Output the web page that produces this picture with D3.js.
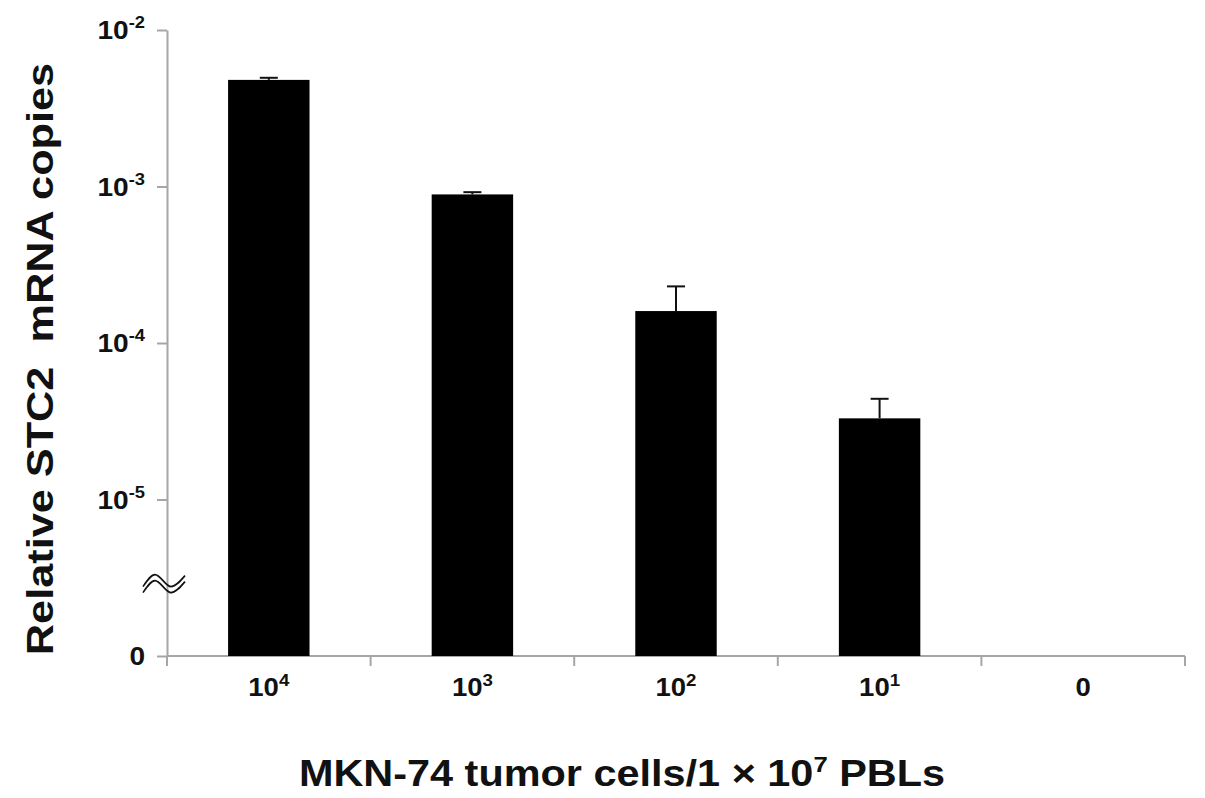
<!DOCTYPE html>
<html>
<head>
<meta charset="utf-8">
<script src="https://cdn.jsdelivr.net/npm/d3@7"></script>
<style>
  body { margin: 0; background: #fff; }
  text { font-family: "Liberation Sans", Arial, sans-serif; font-weight: bold; fill: #111; white-space: pre; }
</style>
</head>
<body>
<div id="canvas"></div>
<script>
let categories = ["10^4", "10^3", "10^2", "10^1", "0"];
let catBase = ["10", "10", "10", "10", "0"];
let catExp = ["4", "3", "2", "1", ""];

let means = [4.8e-3, 8.9e-4, 1.6e-4, 3.3e-5, null];
let upper = [4.95e-3, 9.2e-4, 2.3e-4, 4.4e-5, null];

let yTicks = [1e-6, 1e-5, 1e-4, 1e-3, 1e-2];
let yTickBase = ["0", "10", "10", "10", "10"];
let yTickExp = ["", "-5", "-4", "-3", "-2"];
let breakAt = 2.9e-6;

let svg = d3
  .select("#canvas")
  .append("svg")
  .attr("width", 1205)
  .attr("height", 798)
  .style("background", "#fff");

let x = d3.scaleBand().domain(categories).range([167, 1185]);
let y = d3.scaleLog().domain([1e-6, 1e-2]).range([656, 30]);
let bw = x.bandwidth();
let axisColor = "#a6a6a6";

// y axis
let yAxis = svg
  .append("g")
  .attr("transform", "translate(167,0)")
  .call(d3.axisLeft(y).tickValues(yTicks).tickSize(10).tickSizeOuter(0).tickFormat(""));
yAxis.selectAll("path, line").attr("stroke", axisColor).attr("stroke-width", 2);

yTicks.forEach((t, i) => {
  let lbl = svg
    .append("text")
    .attr("text-anchor", "end")
    .attr("transform", `translate(145,${y(t) + 9}) scale(1.08,1)`)
    .style("font-size", "26px");
  lbl.append("tspan").text(yTickBase[i]);
  if (yTickExp[i]) {
    lbl.append("tspan").attr("dy", -11).style("font-size", "17px").text(yTickExp[i]);
  }
});

// x axis
svg
  .append("line")
  .attr("x1", x.range()[0])
  .attr("x2", x.range()[1])
  .attr("y1", y(1e-6))
  .attr("y2", y(1e-6))
  .attr("stroke", axisColor)
  .attr("stroke-width", 2);

let bounds = categories.map((c) => x(c)).concat(x.range()[1]);
svg
  .selectAll(".xtick")
  .data(bounds)
  .join("line")
  .attr("class", "xtick")
  .attr("x1", (d) => d)
  .attr("x2", (d) => d)
  .attr("y1", y(1e-6))
  .attr("y2", y(1e-6) + 10)
  .attr("stroke", axisColor)
  .attr("stroke-width", 2);

categories.forEach((c, i) => {
  let lbl = svg
    .append("text")
    .attr("text-anchor", "middle")
    .attr("transform", `translate(${x(c) + bw / 2},696) scale(1.1,1)`)
    .style("font-size", "25px");
  lbl.append("tspan").text(catBase[i]);
  if (catExp[i]) {
    lbl.append("tspan").attr("dy", -10).style("font-size", "17px").text(catExp[i]);
  }
});

// axis break
let by = y(breakAt);
let tilde = d3
  .line()
  .x((d) => 167 + d[0])
  .y((d) => by + d[1])
  .curve(d3.curveMonotoneX);
[0, 6].forEach((off) => {
  svg
    .append("path")
    .attr("d", tilde([[-24, 3 + off], [-12, -9 + off], [4, 3 + off], [18, -8 + off]]))
    .attr("fill", "none")
    .attr("stroke", "#111")
    .attr("stroke-width", 1.6);
});

// bars
let barData = categories
  .map((c, i) => ({ cat: c, mean: means[i], hi: upper[i] }))
  .filter((d) => d.mean != null);

svg
  .selectAll(".bar")
  .data(barData)
  .join("rect")
  .attr("class", "bar")
  .attr("x", (d) => x(d.cat) + bw * 0.3)
  .attr("width", bw * 0.4)
  .attr("y", (d) => y(d.mean))
  .attr("height", (d) => y(1e-6) - y(d.mean))
  .attr("fill", "#000");

svg
  .selectAll(".err")
  .data(barData)
  .join("line")
  .attr("class", "err")
  .attr("x1", (d) => x(d.cat) + bw / 2)
  .attr("x2", (d) => x(d.cat) + bw / 2)
  .attr("y1", (d) => y(d.mean))
  .attr("y2", (d) => y(d.hi))
  .attr("stroke", "#111")
  .attr("stroke-width", 2);

svg
  .selectAll(".cap")
  .data(barData)
  .join("line")
  .attr("class", "cap")
  .attr("x1", (d) => x(d.cat) + bw / 2 - 9)
  .attr("x2", (d) => x(d.cat) + bw / 2 + 9)
  .attr("y1", (d) => y(d.hi))
  .attr("y2", (d) => y(d.hi))
  .attr("stroke", "#111")
  .attr("stroke-width", 2);

// titles
svg
  .append("text")
  .attr("text-anchor", "middle")
  .attr("transform", "translate(53,359) rotate(-90) scale(1.17,1)")
  .style("font-size", "37px")
  .text("Relative STC2  mRNA copies");

let xt = svg
  .append("text")
  .attr("text-anchor", "middle")
  .attr("transform", "translate(622,786) scale(1.12,1)")
  .style("font-size", "37px");
xt.append("tspan").text("MKN-74 tumor cells/1 × 10");
xt.append("tspan").attr("dy", -14).style("font-size", "23px").text("7");
xt.append("tspan").attr("dy", 14).text(" PBLs");
</script>
</body>
</html>
